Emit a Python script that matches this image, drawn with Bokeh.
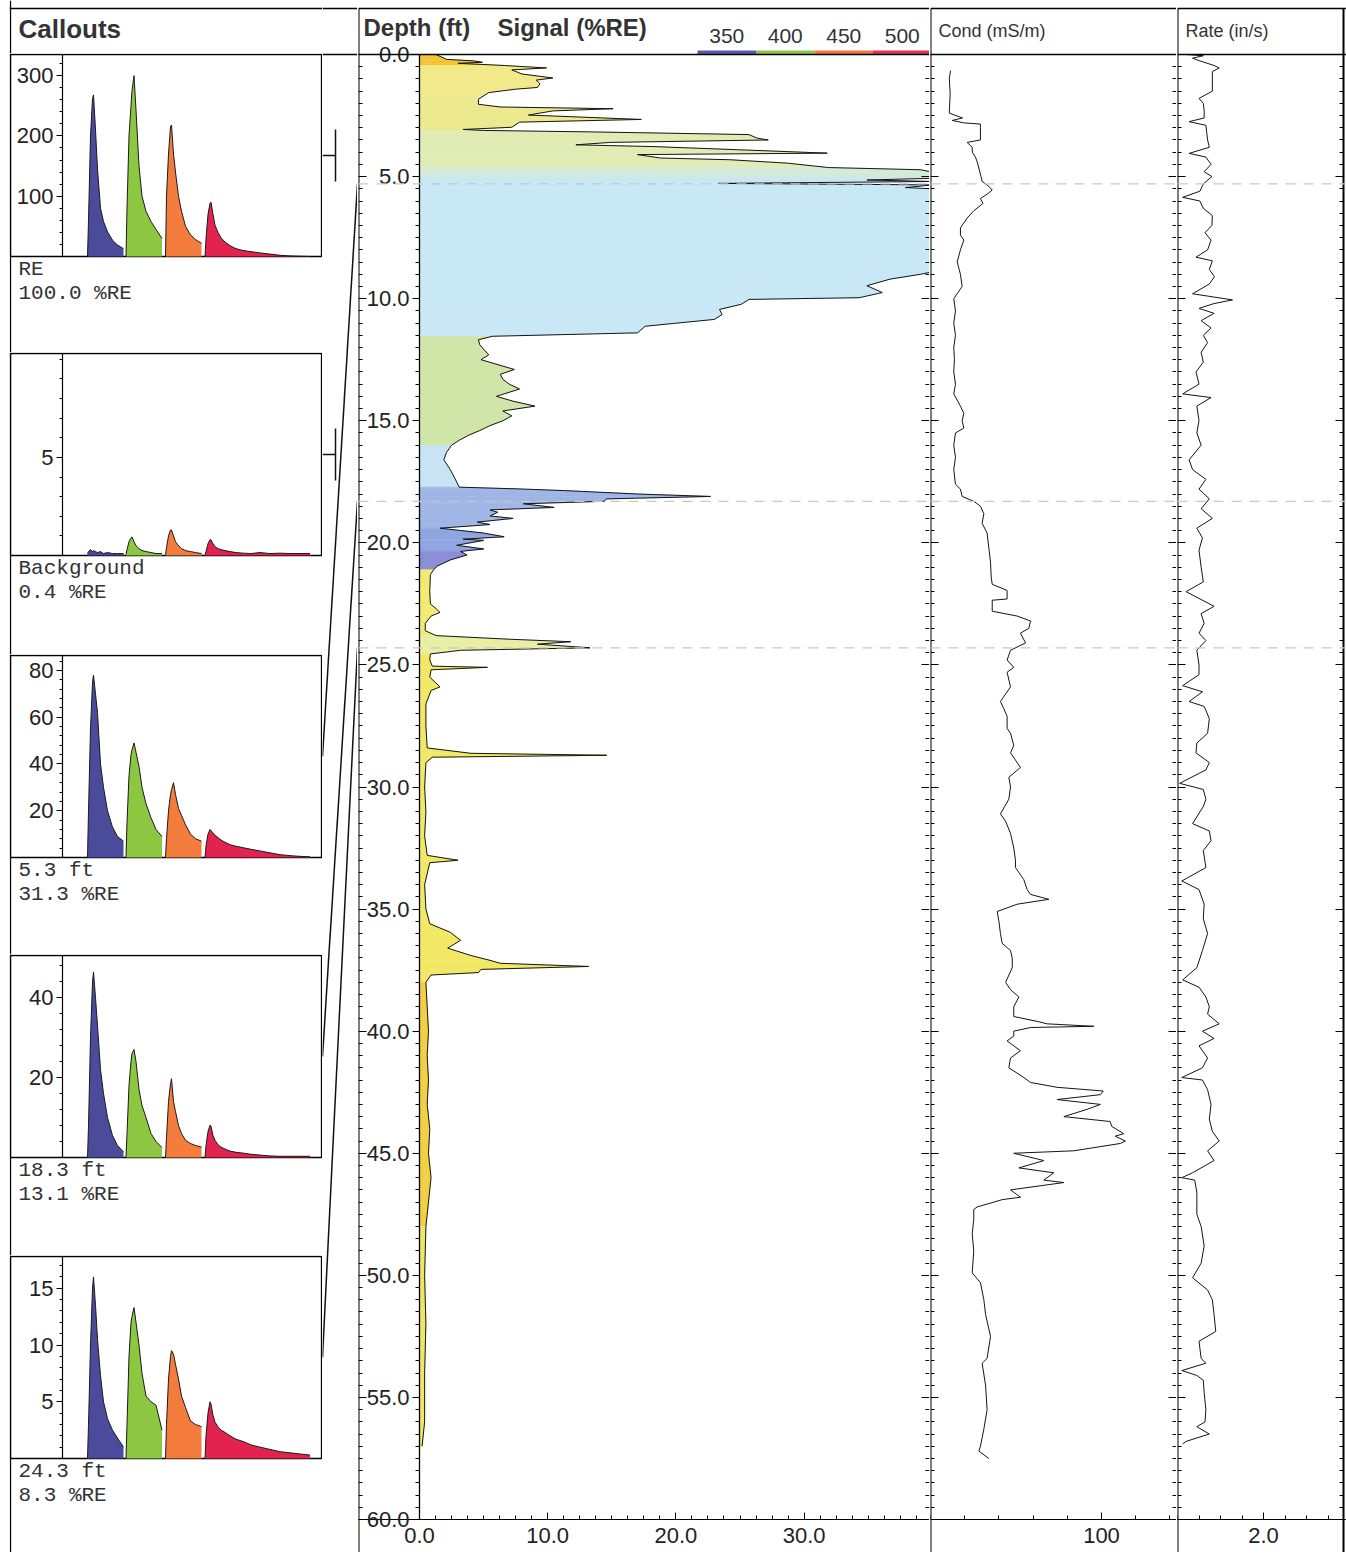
from bokeh.plotting import figure
from bokeh.layouts import row, column
from bokeh.models import (Range1d, LinearAxis, FixedTicker, PrintfTickFormatter, Span,
                          CustomJSTickFormatter)
from bokeh.embed import file_html
from bokeh.resources import INLINE
from bokeh.core.properties import value

# ---------------------------------------------------------------- data
callout_names = ["RE", "Background", "5.3 ft", "18.3 ft", "24.3 ft"]
callout_signal = ["100.0 %RE", "0.4 %RE", "31.3 %RE", "13.1 %RE", "8.3 %RE"]
callout_depths = [None, None, 5.3, 18.3, 24.3]
callout_ymax = [335, 10.3, 86.4, 50.5, 17.8]
callout_ticks = [[100, 200, 300], [5], [20, 40, 60, 80], [20, 40], [5, 10, 15]]
callout_minor_step = [20, 1, 4, 4, 1]

channel_names = ["350", "400", "450", "500"]
channel_colors = ["#4b4b9b", "#8dc641", "#f47c3c", "#e2234f"]
legend_colors = ["#5a5aa8", "#8cc34a", "#f37a3f", "#e0345a"]
channel_start = [25, 63.5, 103, 142.5]
t_short = [0, 1, 3, 5, 6, 8, 10, 13, 16, 20, 25, 30, 36]
t_long = [0, 1, 3, 5, 6, 8, 10, 13, 16, 20, 25, 31, 38, 46, 55, 65, 75, 85, 95, 105]

spec_re = [
    [0, 60, 200, 262, 268, 210, 145, 80, 58, 41, 27, 19, 13],
    [0, 80, 200, 250, 275, 300, 243, 150, 100, 75, 58, 45, 30],
    [0, 100, 170, 215, 218, 170, 140, 100, 75, 50, 36, 28, 22],
    [0, 30, 70, 88, 90, 70, 52, 40, 31, 24, 18, 13, 10, 8, 6, 4, 2, 1, 0.5, 0],
]
spec_bg = [
    [0.1, 0.2, 0.3, 0.2, 0.25, 0.2, 0.15, 0.2, 0.1, 0.15, 0.1, 0.1, 0.1],
    [0.05, 0.3, 0.7, 0.9, 0.95, 0.7, 0.5, 0.35, 0.25, 0.2, 0.15, 0.1, 0.1],
    [0.05, 0.4, 1.0, 1.3, 1.3, 1.0, 0.7, 0.5, 0.35, 0.25, 0.2, 0.15, 0.1],
    [0.05, 0.2, 0.6, 0.8, 0.8, 0.6, 0.45, 0.35, 0.3, 0.25, 0.2, 0.15, 0.12, 0.1, 0.15, 0.1, 0.12, 0.1, 0.1, 0.1],
]
spec_5_3 = [
    [0, 20, 55, 75, 78, 70, 62, 40, 30, 20, 13, 9, 7],
    [0, 15, 35, 44, 46, 49, 45, 39, 30, 23, 17, 12, 9],
    [0, 8, 20, 27, 29, 32, 27, 21, 18, 14, 10, 8, 7],
    [0, 5, 10, 12, 11.5, 10.5, 9.5, 8.5, 7.5, 6.5, 5.5, 4.8, 4.2, 3.5, 2.8, 2.0, 1.2, 0.8, 0.5, 0.3],
]
spec_18_3 = [
    [0, 8, 30, 44, 46.4, 40, 33, 22, 16, 10, 5.5, 3, 1.4],
    [0, 6, 18, 24, 26, 27, 24, 17, 13, 10, 6, 4, 2.5],
    [0, 5, 14, 18.5, 19.7, 14, 11.5, 8, 6, 4.3, 3.5, 3, 2.6],
    [0, 3, 6.5, 8.1, 7.8, 5.5, 4.3, 3.2, 2.6, 2.1, 1.6, 1.3, 1.1, 0.8, 0.6, 0.4, 0.3, 0.3, 0.3, 0.3],
]
spec_24_3 = [
    [0, 3, 10, 15, 16, 13.5, 10.5, 7.3, 5, 3.5, 2.5, 1.8, 1.0],
    [0, 3, 9, 12, 12.5, 13.3, 12, 10, 7.5, 5.5, 5, 4.7, 2.5],
    [0, 3, 7, 9, 9.5, 9.2, 8.3, 7, 5.5, 4.5, 3.3, 3.0, 2.8],
    [0, 2, 4, 5, 4.8, 3.8, 3.2, 2.8, 2.5, 2.3, 2.0, 1.7, 1.5, 1.2, 1.0, 0.8, 0.6, 0.5, 0.4, 0.3],
]
spectra = [spec_re, spec_bg, spec_5_3, spec_18_3, spec_24_3]

sig_depth = [0.0, 0.2, 0.26, 0.32, 0.36, 0.45, 0.55, 0.63, 0.8, 0.96, 1.05, 1.2, 1.35, 1.42, 1.56, 1.83,
             2.04, 2.15, 2.22, 2.31, 2.48, 2.66, 2.77, 2.98, 3.07, 3.11, 3.17, 3.28, 3.42, 3.5, 3.6, 3.7,
             3.77, 3.9, 4.04, 4.1, 4.24, 4.31, 4.45, 4.63, 4.72, 4.82, 5.07, 5.14, 5.2, 5.28, 5.34, 5.45,
             5.5, 8.9, 9.0, 9.2, 9.47, 9.75, 9.96, 10.03, 10.23, 10.44, 10.65, 10.85, 11.13, 11.4, 11.54,
             11.68, 11.89, 12.3, 12.5, 12.9, 13.1, 13.3, 13.5, 13.7, 14.0, 14.2, 14.4, 14.6, 14.8, 15.0,
             15.2, 15.4, 15.6, 15.8, 16.0, 16.3, 16.6, 17.0, 17.3, 17.72, 17.79, 17.86, 18.0, 18.1, 18.2,
             18.3, 18.4, 18.55, 18.65, 18.75, 18.9, 19.0, 19.15, 19.25, 19.4, 19.6, 19.75, 19.85, 19.9,
             20.1, 20.25, 20.35, 20.5, 20.7, 20.95, 21.1, 21.3, 22.0, 22.5, 22.7, 22.85, 23.0, 23.3, 23.6,
             23.8, 23.95, 24.05, 24.15, 24.3, 24.4, 24.55, 24.8, 25.05, 25.1, 25.2, 25.5, 25.9, 26.05,
             26.6, 27.5, 28.4, 28.62, 28.7, 28.78, 29.0, 30.0, 31.0, 32.0, 32.8, 33.0, 33.1, 34.0, 35.0,
             35.6, 35.95, 36.28, 36.6, 36.9, 37.1, 37.22, 37.35, 37.47, 37.6, 37.7, 38.0, 39.0, 40.0,
             41.0, 42.0, 43.0, 44.0, 45.0, 46.0, 47.0, 48.0, 50.0, 52.0, 54.0, 56.0, 57.0]
sig_val = [1.3, 2.1, 4.2, 4.9, 3.0, 6.6, 9.9, 7.2, 8.0, 10.4, 9.1, 9.4, 9.2, 7.5, 5.4, 4.6,
           4.6, 6.3, 15.1, 10.4, 8.5, 17.3, 7.8, 7.2, 3.4, 4.9, 13.4, 25.7, 26.3, 27.2, 14.9, 12.2,
           18.2, 24.8, 31.8, 17.0, 18.8, 24.2, 28.7, 31.9, 39.1, 40, 40, 34.9, 40, 23.3, 40, 37.9,
           40, 40, 39.1, 36.7, 34.9, 36.1, 34.3, 25.7, 25.1, 23.4, 23.6, 23.0, 17.6, 17.0, 5.7,
           4.6, 4.7, 5.4, 4.8, 7.4, 6.3, 6.5, 7.0, 7.8, 6.0, 7.3, 9.0, 6.5, 7.2, 6.5,
           5.5, 4.7, 3.8, 3.1, 2.5, 2.1, 1.9, 2.4, 2.7, 3.1, 7.6, 11.3, 17.0, 22.7, 14.6,
           14.4, 8.1, 10.5, 5.5, 6.1, 5.5, 7.3, 4.5, 5.5, 1.6, 5.0, 6.6, 3.4, 5.0,
           2.9, 5.0, 3.2, 3.7, 2.4, 1.4, 1.1, 0.85, 0.8, 0.85, 1.3, 1.6, 0.9, 0.45, 0.45,
           1.3, 7.1, 11.8, 9.2, 13.3, 3.2, 0.85, 0.8, 1.0, 5.3, 0.9, 0.8, 1.6, 0.9,
           0.5, 0.5, 0.6, 4.0, 14.6, 1.0, 0.5, 0.4, 0.5, 0.4, 0.6, 3.0, 0.8, 0.4, 0.5,
           0.8, 2.4, 3.2, 2.2, 4.0, 5.5, 6.3, 13.2, 4.8, 4.6, 0.9, 0.5, 0.6, 0.7,
           0.6, 0.7, 0.6, 0.8, 0.7, 0.9, 0.7, 0.5, 0.4, 0.5, 0.4, 0.4, 0.2]

band_top = [0.0, 0.45, 1.5, 3.1, 4.6, 5.0, 11.5, 16.0, 17.75, 19.5, 20.4, 21.2, 23.85, 24.5, 38.5, 48.0]
band_color = ["#f5c431", "#f2e98a", "#ece98e", "#e0ecb4", "#d3eadb", "#c8e8f6", "#d0e5a8", "#c8e3f3",
              "#9fb6e6", "#8ea6e0", "#8c8fd6", "#f3ea74", "#e8eea2", "#f1e865", "#f2d046", "#efe567"]

cond_depth = [0.66, 1.0, 1.6, 2.4, 2.6, 2.7, 2.8, 2.85, 3.0, 3.5, 3.6, 3.8, 4.0, 4.2, 4.4, 4.9, 5.2, 5.4,
              5.55, 5.7, 5.9, 6.1, 6.4, 6.7, 7.1, 7.4, 7.6, 8.0, 8.5, 9.0, 9.5, 10.0, 10.5, 11.0, 11.5,
              12.0, 12.5, 13.0, 13.5, 13.9, 14.4, 14.7, 15.0, 15.3, 15.5, 16.0, 16.5, 17.0, 17.6, 17.8,
              18.1, 18.3, 18.5, 18.8, 19.2, 19.6, 20.2, 20.8, 21.4, 21.7, 21.95, 22.3, 22.35, 22.8, 23.0,
              23.2, 23.5, 23.7, 24.1, 24.4, 24.8, 25.1, 25.3, 25.9, 26.5, 26.8, 27.1, 27.6, 27.8, 28.3,
              28.6, 29.2, 29.6, 30.0, 30.5, 31.1, 31.4, 31.9, 32.5, 33.0, 33.3, 33.8, 34.2, 34.4, 34.6,
              34.8, 35.1, 35.5, 36.0, 36.4, 36.7, 37.0, 37.4, 38.0, 38.3, 38.6, 39.0, 39.4, 39.6, 39.7,
              39.8, 39.85, 40.0, 40.2, 40.4, 40.8, 41.1, 41.5, 41.9, 42.1, 42.3, 42.45, 42.6, 42.8, 43.0,
              43.2, 43.5, 43.7, 43.9, 44.2, 44.3, 44.5, 44.6, 44.9, 45.0, 45.3, 45.6, 45.8, 46.1, 46.2,
              46.5, 46.8, 46.9, 47.2, 47.3, 47.7, 48.3, 49.0, 49.9, 50.3, 51.0, 51.6, 52.5, 53.4, 53.6,
              54.5, 55.5, 56.3, 57.0, 57.2, 57.5]
cond_val = [11.7, 11.0, 11.5, 11.0, 18.7, 12.7, 19.5, 29.2, 29.2, 29.2, 21.4, 24.4, 24.4, 26.3, 27.3, 29.2,
            30.2, 34.1, 36.1, 33.5, 29.2, 30.7, 25.3, 21.4, 17.5, 17.5, 19.5, 17.5, 15.6, 17.5, 18.5, 13.6,
            14.6, 13.6, 14.6, 13.6, 14.0, 13.6, 14.6, 13.6, 17.5, 19.5, 18.5, 19.5, 14.6, 13.6, 14.6, 13.6,
            14.6, 17.5, 18.5, 25.3, 29.2, 31.2, 30.2, 33.1, 34.1, 35.1, 35.5, 36.1, 44.8, 44.8, 36.1, 36.1,
            50.7, 58.5, 57.5, 52.6, 55.6, 46.8, 44.8, 48.7, 44.8, 46.8, 40.9, 42.9, 44.8, 44.8, 46.8, 48.7,
            46.8, 52.6, 45.8, 46.8, 45.8, 40.9, 43.9, 46.8, 48.7, 49.7, 49.7, 54.6, 56.5, 58.5, 69.2, 50.7,
            39.0, 40.0, 40.9, 41.9, 46.8, 47.8, 47.8, 43.9, 46.8, 51.7, 48.7, 48.7, 62.4, 68.2, 95.5, 58.5,
            48.7, 48.7, 44.8, 52.6, 46.8, 45.8, 54.6, 58.5, 74.0, 101.0, 99.4, 74.0, 99.4, 91.6, 78.0,
            105.0, 106.0, 113.0, 108.0, 114.0, 111.0, 83.8, 48.7, 66.3, 51.7, 72.1, 66.3, 78.0, 46.8,
            52.6, 41.9, 27.3, 25.3, 25.3, 24.4, 25.3, 24.4, 29.2, 31.2, 32.2, 35.1, 33.1, 30.2, 32.2,
            33.1, 31.2, 29.2, 28.3, 34.1]

rate_depth = [0.0, 0.05, 0.15, 0.25, 0.45, 0.55, 0.7, 1.0, 1.5, 1.8, 2.0, 2.3, 2.6, 2.75, 2.9, 3.2, 3.5,
              3.8, 4.05, 4.2, 4.5, 4.8, 5.0, 5.3, 5.6, 5.85, 6.0, 6.3, 6.6, 7.0, 7.3, 7.6, 8.0, 8.3, 8.45,
              8.8, 9.1, 9.4, 9.8, 10.05, 10.2, 10.4, 10.6, 10.9, 11.2, 11.5, 11.8, 12.2, 12.6, 13.0, 13.5,
              13.9, 14.05, 14.4, 15.0, 15.5, 16.0, 16.6, 17.0, 17.4, 17.8, 18.2, 18.6, 19.0, 19.4, 19.8,
              20.3, 21.0, 21.6, 22.0, 22.6, 22.9, 23.3, 23.7, 24.0, 24.4, 25.0, 25.4, 25.85, 26.1, 26.5,
              26.7, 27.2, 27.8, 28.2, 28.6, 29.0, 29.3, 29.85, 30.1, 30.5, 30.8, 31.5, 31.8, 32.2, 32.6,
              33.3, 33.85, 34.2, 34.8, 35.4, 36.0, 36.7, 37.4, 37.9, 38.2, 38.6, 39.0, 39.3, 39.7, 40.0,
              40.3, 40.6, 41.1, 41.5, 41.9, 42.0, 42.4, 43.0, 43.6, 44.1, 44.5, 44.9, 45.3, 45.8, 46.0,
              46.1, 46.6, 47.5, 48.0, 48.8, 49.5, 50.1, 50.6, 51.0, 51.6, 52.3, 52.7, 53.4, 53.6, 53.9,
              54.1, 54.3, 54.8, 55.5, 56.0, 56.2, 56.5, 56.8, 56.9]
rate_val = [0.2, 0.6, 0.35, 0.5, 0.85, 0.97, 0.81, 0.81, 0.81, 0.5, 0.6, 0.62, 0.62, 0.27, 0.66, 0.68, 0.7,
            0.74, 0.27, 0.66, 0.78, 0.62, 0.8, 0.6, 0.52, 0.12, 0.52, 0.6, 0.81, 0.8, 0.64, 0.78, 0.7, 0.43,
            0.81, 0.74, 0.86, 0.74, 0.35, 1.28, 0.85, 0.5, 0.85, 0.55, 0.78, 0.6, 0.7, 0.55, 0.6, 0.43, 0.5,
            0.12, 0.78, 0.45, 0.5, 0.45, 0.55, 0.27, 0.35, 0.66, 0.5, 0.74, 0.55, 0.81, 0.45, 0.58,
            0.5, 0.55, 0.6, 0.2, 0.85, 0.55, 0.62, 0.5, 0.66, 0.45, 0.5, 0.5, 0.12, 0.58, 0.27,
            0.62, 0.74, 0.7, 0.45, 0.43, 0.74, 0.66, 0.05, 0.6, 0.66, 0.6, 0.35, 0.74, 0.78, 0.6,
            0.66, 0.1, 0.5, 0.62, 0.6, 0.7, 0.58, 0.45, 0.12, 0.5, 0.66, 0.74, 0.7, 0.97, 0.58,
            0.85, 0.5, 0.7, 0.58, 0.1, 0.58, 0.7, 0.78, 0.74, 0.81, 0.97, 0.7, 0.85, 0.35, 0.1,
            0.4, 0.45, 0.45, 0.55, 0.62, 0.55, 0.35, 0.7, 0.81, 0.85, 0.89, 0.5, 0.55, 0.66, 0.1,
            0.45, 0.6, 0.62, 0.66, 0.64, 0.45, 0.74, 0.2, 0.12]

track_titles = ["Depth (ft)", "Signal (%RE)", "Cond (mS/m)", "Rate (in/s)"]
DEPTH_MAX = 60

# ---------------------------------------------------------------- layout constants (page pixels)
FONT = "Liberation Sans"
MONO = "Liberation Mono"
INK = "#222222"
FIG_H = 1552
Y_TOP_LINE = 8          # page y of the outer top border
Y_DEPTH0 = 54           # page y of depth 0 (header separator)
Y_DEPTH60 = 1519        # page y of depth 60
PPF = (Y_DEPTH60 - Y_DEPTH0) / DEPTH_MAX

W_CALL, W_CONN, W_DEPTH, W_COND, W_RATE = 322, 35, 572, 247, 170
CALL_HEADER_H = 53
CALLOUT_H = [299, 302, 300, 301, 297]
BOX_PX = 202
CALL_LEFT_PX = 9        # frame offset inside a callout figure

X_DEPTH_FIG = W_CALL + W_CONN            # 357
SIG_PPU, SIG_ZERO_PAGE = 12.82, 419
COND_PPU = 1.71
RATE_PPU = 43.0
RATE_BORDER_PX = 166


def page_to_depth(py):
    return (py - Y_DEPTH0) / PPF


depth_range = Range1d(page_to_depth(FIG_H), page_to_depth(0))
D_TOP = page_to_depth(Y_TOP_LINE)


def base_fig(w, h, xr, yr, left=0, right=0):
    p = figure(width=w, height=h, x_range=xr, y_range=yr, x_axis_type=None, y_axis_type=None,
               output_backend="svg", toolbar_location=None, min_border_left=left,
               min_border_right=right, min_border_top=0, min_border_bottom=0)
    p.background_fill_color = "white"
    p.border_fill_color = "white"
    p.outline_line_color = None
    return p


def depth_ticker():
    return FixedTicker(ticks=list(range(0, DEPTH_MAX + 1, 5)),
                       minor_ticks=[i * 0.5 for i in range(2 * DEPTH_MAX + 1)])


def border_axis(loc):
    ax = LinearAxis(fixed_location=loc, ticker=depth_ticker(),
                    formatter=CustomJSTickFormatter(code="return ''"))
    ax.major_tick_in = 8
    ax.major_tick_out = 0
    ax.minor_tick_in = 4
    ax.minor_tick_out = 0
    ax.axis_line_color = None
    return ax


def bottom_axis(ticks, minor, fmt):
    ax = LinearAxis(fixed_location=DEPTH_MAX, ticker=FixedTicker(ticks=ticks, minor_ticks=minor),
                    formatter=PrintfTickFormatter(format=fmt))
    ax.major_tick_in = 7
    ax.major_tick_out = 0
    ax.minor_tick_in = 4
    ax.minor_tick_out = 0
    ax.major_label_standoff = 8
    ax.major_label_text_font = FONT
    ax.major_label_text_font_size = "22px"
    ax.major_label_text_color = INK
    ax.axis_line_color = "black"
    return ax


def track_frame_lines(p, xs_vertical):
    # outer top border and header separator
    p.add_layout(Span(location=D_TOP, dimension="width", line_color="black", line_width=1.3))
    p.add_layout(Span(location=0, dimension="width", line_color="black", line_width=1.3))
    p.segment(x0=xs_vertical, y0=[D_TOP] * len(xs_vertical), x1=xs_vertical,
              y1=[depth_range.start] * len(xs_vertical), line_color="black", line_width=2)


# ---------------------------------------------------------------- callouts column
x_lo = -(CALL_LEFT_PX + 44)              # data x of the frame left edge (y axis sits at x = 0)
x_hi = x_lo + (W_CALL - CALL_LEFT_PX)
box_left, box_right = x_lo + 1, x_hi - 1

call_header = base_fig(W_CALL, CALL_HEADER_H, Range1d(x_lo, x_hi), Range1d(0, CALL_HEADER_H),
                       left=CALL_LEFT_PX)
call_header.add_layout(Span(location=CALL_HEADER_H - Y_TOP_LINE, dimension="width",
                            line_color="black", line_width=1.3))
call_header.add_layout(Span(location=box_left, dimension="height", line_color="black",
                            line_width=1.3))
call_header.text(x=[box_left + 8], y=[CALL_HEADER_H - 28], text=["Callouts"], text_font=value(FONT),
                 text_font_size="26px", text_font_style="bold", text_color="#333333",
                 text_baseline="middle")

callout_figs = []
box_centre_pages = []
fig_top = CALL_HEADER_H
for k in range(5):
    h = CALLOUT_H[k]
    ymax = callout_ymax[k]
    s = ymax / BOX_PX
    y_end = ymax + s
    y_start = y_end - h * s
    p = base_fig(W_CALL, h, Range1d(x_lo, x_hi), Range1d(y_start, y_end), left=CALL_LEFT_PX)
    p.add_layout(Span(location=box_left, dimension="height", line_color="black", line_width=1.3))
    p.quad(left=[box_left], right=[box_right], bottom=[0], top=[ymax], fill_color=None,
           line_color="black", line_width=1.3)
    step = callout_minor_step[k]
    minors = [i * step for i in range(int(ymax / step) + 1)]
    ax = LinearAxis(fixed_location=0, ticker=FixedTicker(ticks=callout_ticks[k], minor_ticks=minors))
    ax.major_tick_out = 6
    ax.major_tick_in = 0
    ax.minor_tick_out = 3
    ax.minor_tick_in = 0
    ax.major_label_standoff = 3
    ax.major_label_text_font = FONT
    ax.major_label_text_font_size = "22px"
    ax.major_label_text_color = INK
    ax.axis_line_color = None
    p.add_layout(ax, "left")
    p.segment(x0=[0], y0=[0], x1=[0], y1=[ymax], line_color="black", line_width=1.2)
    for c in range(4):
        tt = t_long if c == 3 else t_short
        xx = [channel_start[c] + ti for ti in tt]
        p.varea(x=xx, y1=0, y2=spectra[k][c], fill_color=channel_colors[c])
        p.line(xx, spectra[k][c], line_color="#1a1a1a", line_width=1)
    p.text(x=[box_left + 8, box_left + 8], y=[-13 * s, -37 * s],
           text=[callout_names[k], callout_signal[k]], text_font=value(MONO), text_font_size="21px",
           text_color="#333333", text_baseline="middle")
    callout_figs.append(p)
    box_centre_pages.append(fig_top + 1 + BOX_PX / 2)
    fig_top += h

left_col = column(call_header, *callout_figs, spacing=0)

# ---------------------------------------------------------------- connector column
conn = base_fig(W_CONN, FIG_H, Range1d(0, W_CONN), depth_range)
conn.add_layout(Span(location=D_TOP, dimension="width", line_color="black", line_width=1.3))
conn.add_layout(Span(location=0, dimension="width", line_color="black", line_width=1.3))
x0s, y0s, x1s, y1s = [], [], [], []
for k in range(5):
    c = page_to_depth(box_centre_pages[k])
    if callout_depths[k] is None:
        half = 26 / PPF
        x0s += [0, 13]
        y0s += [c, c - half]
        x1s += [13, 13]
        y1s += [c, c + half]
    else:
        x0s.append(0)
        y0s.append(c)
        x1s.append(W_CONN)
        y1s.append(callout_depths[k])
conn.segment(x0=x0s, y0=y0s, x1=x1s, y1=y1s, line_color="#111111", line_width=1.5)

# ---------------------------------------------------------------- depth / signal track
def sig_x(px):
    return (px - SIG_ZERO_PAGE) / SIG_PPU


SIG_MIN = sig_x(X_DEPTH_FIG + 1)
SIG_MAX = sig_x(X_DEPTH_FIG + W_DEPTH)
depth_fig = base_fig(W_DEPTH, FIG_H, Range1d(SIG_MIN, SIG_MAX), depth_range, left=1)
track_frame_lines(depth_fig, [SIG_MIN])


def band_colour(d):
    col = band_color[0]
    for top, cc in zip(band_top, band_color):
        if d >= top:
            col = cc
    return col


xs, ys, cols = [], [], []
for i in range(len(sig_depth) - 1):
    d0, d1 = sig_depth[i], sig_depth[i + 1]
    v0, v1 = sig_val[i], sig_val[i + 1]
    xs.append([0, v0, v1, 0])
    ys.append([d0, d0, d1, d1])
    cols.append(band_colour((d0 + d1) / 2))
depth_fig.patches(xs, ys, fill_color=cols, line_color=cols, line_width=0.6)
depth_fig.line(sig_val, sig_depth, line_color="#151515", line_width=1)

lab_ax = LinearAxis(fixed_location=0, ticker=depth_ticker(), formatter=PrintfTickFormatter(format="%.1f"))
lab_ax.major_tick_out = 7
lab_ax.major_tick_in = 0
lab_ax.minor_tick_out = 4
lab_ax.minor_tick_in = 0
lab_ax.major_label_standoff = 3
lab_ax.major_label_text_font = FONT
lab_ax.major_label_text_font_size = "22px"
lab_ax.major_label_text_color = INK
lab_ax.axis_line_color = None
depth_fig.add_layout(lab_ax, "left")
depth_fig.segment(x0=[0], y0=[0], x1=[0], y1=[DEPTH_MAX], line_color="black", line_width=1.3)
depth_fig.add_layout(border_axis(SIG_MIN), "left")
depth_fig.add_layout(border_axis(SIG_MAX), "right")
depth_fig.add_layout(bottom_axis([0, 10, 20, 30], [i * 1.25 for i in range(32)], "%.1f"), "below")

# header texts and legend (positions given in page pixels, converted to data units)
head_y = page_to_depth(27)
depth_fig.text(x=[sig_x(363), sig_x(497)], y=[head_y, head_y], text=track_titles[:2],
               text_font=value(FONT), text_font_size="24px", text_font_style="bold",
               text_color="#333333", text_baseline="middle")
LEG_X0, LEG_W = 697, 58.5
depth_fig.quad(left=[sig_x(LEG_X0 + i * LEG_W) for i in range(4)],
               right=[sig_x(LEG_X0 + (i + 1) * LEG_W) for i in range(4)],
               bottom=[0] * 4, top=[page_to_depth(Y_DEPTH0 - 4)] * 4,
               fill_color=legend_colors, line_color=None)
depth_fig.text(x=[sig_x(LEG_X0 + (i + 0.5) * LEG_W) for i in range(4)], y=[page_to_depth(35)] * 4,
               text=channel_names, text_font=value(FONT), text_font_size="21px", text_color="#333333",
               text_align="center", text_baseline="middle")

# ---------------------------------------------------------------- conductivity track
COND_MAX = (W_COND - 1) / COND_PPU
cond_fig = base_fig(W_COND, FIG_H, Range1d(0, COND_MAX), depth_range, left=1)
track_frame_lines(cond_fig, [0])
cond_fig.add_layout(border_axis(0), "left")
cond_fig.add_layout(border_axis(COND_MAX), "right")
cond_fig.add_layout(bottom_axis([100], [i * 20 for i in range(8)], "%d"), "below")
cond_fig.line(cond_val, cond_depth, line_color="#151515", line_width=1)
cond_fig.text(x=[8 / COND_PPU], y=[page_to_depth(30)], text=[track_titles[2]], text_font=value(FONT),
              text_font_size="18px", text_color="#333333", text_baseline="middle")

# ---------------------------------------------------------------- rate track
RATE_MAX = (W_RATE - 1) / RATE_PPU
RATE_EDGE = RATE_BORDER_PX / RATE_PPU
rate_fig = base_fig(W_RATE, FIG_H, Range1d(0, RATE_MAX), depth_range, left=1)
track_frame_lines(rate_fig, [0, RATE_EDGE])
rate_fig.add_layout(border_axis(0), "left")
rate_fig.add_layout(border_axis(RATE_EDGE), "right")
rate_fig.add_layout(bottom_axis([2.0], [i * 0.5 for i in range(8)], "%.1f"), "below")
rate_fig.line(rate_val, rate_depth, line_color="#151515", line_width=1)
rate_fig.text(x=[8 / RATE_PPU], y=[page_to_depth(30)], text=[track_titles[3]], text_font=value(FONT),
              text_font_size="18px", text_color="#333333", text_baseline="middle")

# dashed markers at callout depths
for fig in (depth_fig, cond_fig, rate_fig):
    for d in callout_depths:
        if d is not None:
            fig.add_layout(Span(location=d, dimension="width", line_color="#c8c8c8",
                                line_dash="10 8", line_width=1.2))

root = row(left_col, conn, depth_fig, cond_fig, rate_fig, spacing=0)

open("out.html", "w").write(file_html(root, INLINE))
